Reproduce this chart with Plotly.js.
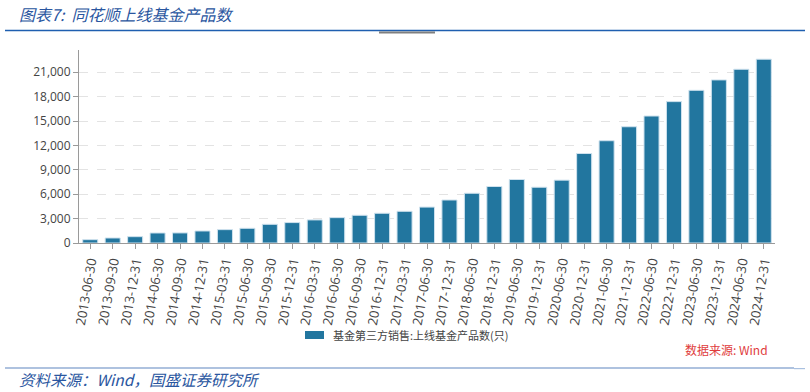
<!DOCTYPE html>
<html>
<head>
<meta charset="utf-8">
<script src="https://cdn.plot.ly/plotly-3.0.1.min.js"></script>
<style>
  html, body { margin: 0; padding: 0; background: #ffffff; }
  #chart { width: 810px; height: 392px; }
</style>
</head>
<body>
<div id="chart"></div>
<script>
// ---- data ----
const categories = [
  "2013-06-30","2013-09-30","2013-12-31","2014-06-30","2014-09-30","2014-12-31",
  "2015-03-31","2015-06-30","2015-09-30","2015-12-31","2016-03-31","2016-06-30",
  "2016-09-30","2016-12-31","2017-03-31","2017-06-30","2017-12-31","2018-06-30",
  "2018-12-31","2019-06-30","2019-12-31","2020-06-30","2020-12-31","2021-06-30",
  "2021-12-31","2022-06-30","2022-12-31","2023-06-30","2023-12-31","2024-06-30",
  "2024-12-31"
];
const fundCounts = [
  410, 617, 780, 1233, 1240, 1480,
  1644, 1810, 2300, 2510, 2840, 3120,
  3410, 3660, 3900, 4420, 5290, 6120,
  6950, 7810, 6860, 7730, 11010, 12580,
  14300, 15620, 17390, 18780, 20060, 21370,
  22610
];
const seriesName = "基金第三方销售:上线基金产品数(只)";
const yTickValues = [0, 3000, 6000, 9000, 12000, 15000, 18000, 21000];
const headerText = "图表7:  同花顺上线基金产品数";
const footerText = "资料来源：Wind，国盛证券研究所";
const sourceText = "数据来源: Wind";

// ---- layout helpers (pixel -> paper) ----
const W = 810, H = 392;
const L = 79, R = 775, T = 50, B = 243;
const px = x => (x - L) / (R - L);
const py = y => (B - y) / (B - T);

const cjk = '"Noto Sans CJK SC", "Open Sans", sans-serif';
const numFont = '"Open Sans", "Noto Sans", sans-serif';

const trace = {
  type: 'bar',
  x: categories,
  y: fundCounts,
  name: seriesName,
  marker: { color: '#22769f', line: { color: '#cfe2ee', width: 1 } },
  hoverinfo: 'x+y',
  showlegend: false
};

const layout = {
  width: W, height: H,
  margin: { l: L, r: W - R, t: T, b: H - B, pad: 0 },
  paper_bgcolor: '#ffffff',
  plot_bgcolor: '#ffffff',
  bargap: 0.33,
  xaxis: {
    type: 'category',
    range: [-0.5, categories.length - 0.5],
    showline: true, linecolor: '#9a9a9a', linewidth: 1,
    ticks: 'outside', ticklen: 5, tickcolor: '#9a9a9a', tickwidth: 1,
    tickangle: -80,
    tickfont: { family: numFont, size: 13, color: '#444' },
    showgrid: false, zeroline: false, fixedrange: true
  },
  yaxis: {
    range: [0, 23740],
    tickvals: yTickValues,
    tickformat: ',d',
    showline: true, linecolor: '#9a9a9a', linewidth: 1,
    ticks: 'outside', ticklen: 5, tickcolor: '#9a9a9a', tickwidth: 1,
    tickfont: { family: numFont, size: 12, color: '#444' },
    showgrid: true, gridcolor: '#e3e3e3', griddash: 'dash', gridwidth: 1,
    zeroline: false, fixedrange: true
  },
  shapes: [
    // top rule
    { type: 'line', xref: 'paper', yref: 'paper', x0: px(5), x1: px(805), y0: py(30.5), y1: py(30.5),
      line: { color: '#1f5fb0', width: 1.6 } },
    // clipped chart title fragment
    { type: 'rect', xref: 'paper', yref: 'paper', x0: px(379), x1: px(435), y0: py(31.5), y1: py(33.5),
      line: { width: 0 }, fillcolor: '#555555', opacity: 0.75 },
    // legend swatch
    { type: 'rect', xref: 'paper', yref: 'paper', x0: px(305), x1: px(324), y0: py(331), y1: py(339),
      line: { width: 0 }, fillcolor: '#22769f' },
    // bottom rule
    { type: 'line', xref: 'paper', yref: 'paper', x0: px(5), x1: px(794), y0: py(368), y1: py(368),
      line: { color: '#5f86c0', width: 1.2 } },
    { type: 'line', xref: 'paper', yref: 'paper', x0: px(794), x1: px(805), y0: py(368.6), y1: py(368.6),
      line: { color: '#a9c0e0', width: 1.2 } }
  ],
  annotations: [
    { xref: 'paper', yref: 'paper', x: px(17), y: py(14), xanchor: 'left', yanchor: 'middle',
      text: headerText, showarrow: false,
      font: { family: cjk, size: 16, color: '#2a56a0', style: 'italic' } },
    { xref: 'paper', yref: 'paper', x: px(331), y: py(335), xanchor: 'left', yanchor: 'middle',
      text: seriesName, showarrow: false,
      font: { family: cjk, size: 11, color: '#444' } },
    { xref: 'paper', yref: 'paper', x: px(770), y: py(349), xanchor: 'right', yanchor: 'middle',
      text: sourceText, showarrow: false,
      font: { family: cjk, size: 12, color: '#e03c3c' } },
    { xref: 'paper', yref: 'paper', x: px(17), y: py(379), xanchor: 'left', yanchor: 'middle',
      text: footerText, showarrow: false,
      font: { family: cjk, size: 15.5, color: '#2a56a0', style: 'italic' } }
  ]
};

Plotly.newPlot('chart', [trace], layout, { displayModeBar: false, staticPlot: true });
</script>
</body>
</html>
